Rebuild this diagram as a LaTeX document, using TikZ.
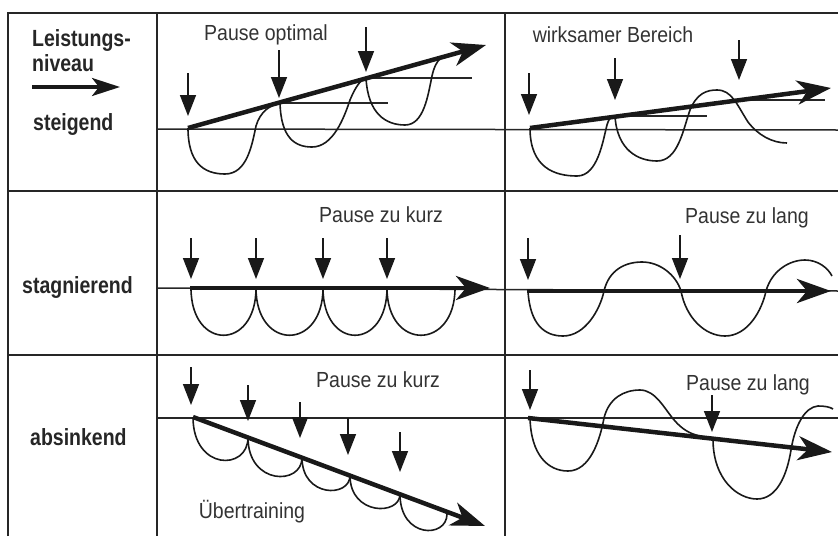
\documentclass[tikz,border=0pt]{standalone}
\usepackage{fontspec}
\usepackage{graphicx}
\setmainfont{Liberation Sans}
\usetikzlibrary{arrows.meta}
\newcommand{\tallbold}[1]{\scalebox{1}[1.2]{#1}}
\newcommand{\tallreg}[1]{\scalebox{1}[1.12]{#1}}
\tikzset{
rowlabel/.style={
anchor=base west,
inner sep=0pt,
font=\fontsize{19.5}{22}\selectfont\bfseries,
text=black!85
},
caption/.style={
anchor=base,
inner sep=0pt,
font=\fontsize{19.5}{22}\selectfont,
text=black!80
},
gridline/.style={
line width=1.8pt,
black!85
},
levelline/.style={
line width=1.5pt,
black!85
},
wave/.style={
line width=1.6pt,
black!90
},
trend/.style={
-{Stealth[length=34pt,width=24pt,inset=10pt]},
line width=4.5pt,
black!90
},
pause/.style={
-{Triangle[length=21pt,width=16pt]},
line width=1.6pt,
black!90
}
}

\begin{document}
\begin{tikzpicture}[x=1pt,y=-1pt]
\useasboundingbox (0,0) rectangle (838,536);
% table
\draw[gridline] (8,536) -- (8,13) -- (838,13);
\draw[gridline] (157,13) -- (157,536);
\draw[gridline] (505,13) -- (505,536);
\draw[gridline] (8,191) -- (838,191);
\draw[gridline] (8,355) -- (838,355);

% left column
\node[rowlabel](leistung) at (32,46){\tallbold{Leistungs-}};
\node[rowlabel](niveau) at (32,71){\tallbold{niveau}};
\draw[-{Stealth[length=28pt,width=18pt,inset=7pt]},line width=3.5pt,black!90] (32,87) -- (120,87);
\node[rowlabel](steigend) at (33,130){\tallbold{steigend}};
\node[rowlabel](stagnierend) at (22,293){\tallbold{stagnierend}};
\node[rowlabel](absinkend) at (30,445){\tallbold{absinkend}};

% zero levels
\draw[levelline] (157,129) -- (838,130);
\draw[levelline] (157,288) -- (838,291);
\draw[levelline] (157,418) -- (838,418);

% captions
\node[caption](optimal) at (266,40){\tallreg{Pause optimal}};
\node[caption](wirksam) at (613,42){\tallreg{wirksamer Bereich}};
\node[caption](kurzA) at (381,222){\tallreg{Pause zu kurz}};
\node[caption](langA) at (747,223){\tallreg{Pause zu lang}};
\node[caption](kurzB) at (378,387){\tallreg{Pause zu kurz}};
\node[caption](langB) at (748,390){\tallreg{Pause zu lang}};
\node[caption](ueber) at (252,518){\tallreg{Übertraining}};

% steigend, optimal
\draw[levelline] (280,103) -- (388,103);
\draw[levelline] (366,78) -- (472,78);
\draw[wave] (188,128) .. controls (188,162) and (203,174) .. (225,174)
 .. controls (247,174) and (252,145) .. (256,126)
 .. controls (260,112) and (270,105) .. (280,103)
 .. controls (281,138) and (295,147) .. (312,147)
 .. controls (333,147) and (344,118) .. (350,100)
 .. controls (355,88) and (360,80) .. (366,78)
 .. controls (368,114) and (386,125) .. (405,125)
 .. controls (424,125) and (428,95) .. (432,76)
 .. controls (434,67) and (437,61) .. (441,58);
\draw[trend] (188,128) -- (486,45);

% steigend, wirksam
\draw[levelline] (615,116) -- (707,116);
\draw[levelline] (739,100) -- (825,100);
\draw[wave] (530,128) .. controls (530,168) and (555,176) .. (577,176)
 .. controls (598,176) and (603,140) .. (607,125)
 .. controls (609,118) and (612,115) .. (615,116)
 .. controls (617,150) and (638,161) .. (657,161)
 .. controls (678,161) and (683,130) .. (690,110)
 .. controls (697,93) and (707,90) .. (717,90)
 .. controls (732,90) and (737,105) .. (748,122)
 .. controls (758,135) and (772,143) .. (787,143);
\draw[trend] (530,128) -- (831,88);

% stagnierend
\foreach \a/\b in {191/256,256/323,323/387,387/455}
\draw[wave] (\a,288) .. controls (\a,351) and (\b,351) .. (\b,288);
\draw[trend] (190,288) -- (490,288);
\draw[wave] (528,291) .. controls (530,325) and (545,336) .. (563,336)
 .. controls (585,336) and (600,310) .. (604,291)
 .. controls (609,270) and (625,262) .. (642,262)
 .. controls (660,262) and (676,275) .. (681,291)
 .. controls (686,318) and (705,336) .. (725,336)
 .. controls (748,336) and (762,310) .. (766,291)
 .. controls (772,270) and (790,260) .. (805,260)
 .. controls (818,260) and (828,268) .. (832,276);
\draw[trend] (527,291) -- (831,291);

% absinkend
\foreach \a/\ya/\b/\yb/\c in {193/417/248/437.5/470.9,248/437.5/302/457.7/485.5,302/457.7/350/475.6/497.8,350/475.6/400/494.2/515.7,400/494.2/447/514/538.6}
\draw[wave] (\a,\ya) .. controls (\a,\c) and (\b,\c) .. (\b,\yb);
\draw[trend] (193,417) -- (485,526);
\draw[wave] (530,418) .. controls (531,455) and (548,471) .. (568,471)
 .. controls (590,471) and (600,440) .. (604,418)
 .. controls (609,398) and (624,390) .. (640,390)
 .. controls (656,390) and (665,410) .. (675,421)
 .. controls (682,429) and (690,434) .. (700,436);
\draw[wave] (713,439) .. controls (713,480) and (738,499) .. (757,499)
 .. controls (777,499) and (787,475) .. (791,450)
 .. controls (795,425) and (805,407) .. (818,406)
 .. controls (825,406) and (830,407) .. (833,409);
\draw[trend] (528,418) -- (832,452);

% pauses
\foreach \x/\ya/\yb in {188/73/116,279/50/98,366/27/72,529/73/115,615/58/100,739/40/80,191/238/279,256/238/279,323/238/279,387/238/279,528/238/280,680/235/279,191/367/405,248/385/421,300/402/438,348/418/455,400/432/472,530/370/410,712/395/432}
\draw[pause] (\x,\ya) -- (\x,\yb);
\end{tikzpicture}
\end{document}
